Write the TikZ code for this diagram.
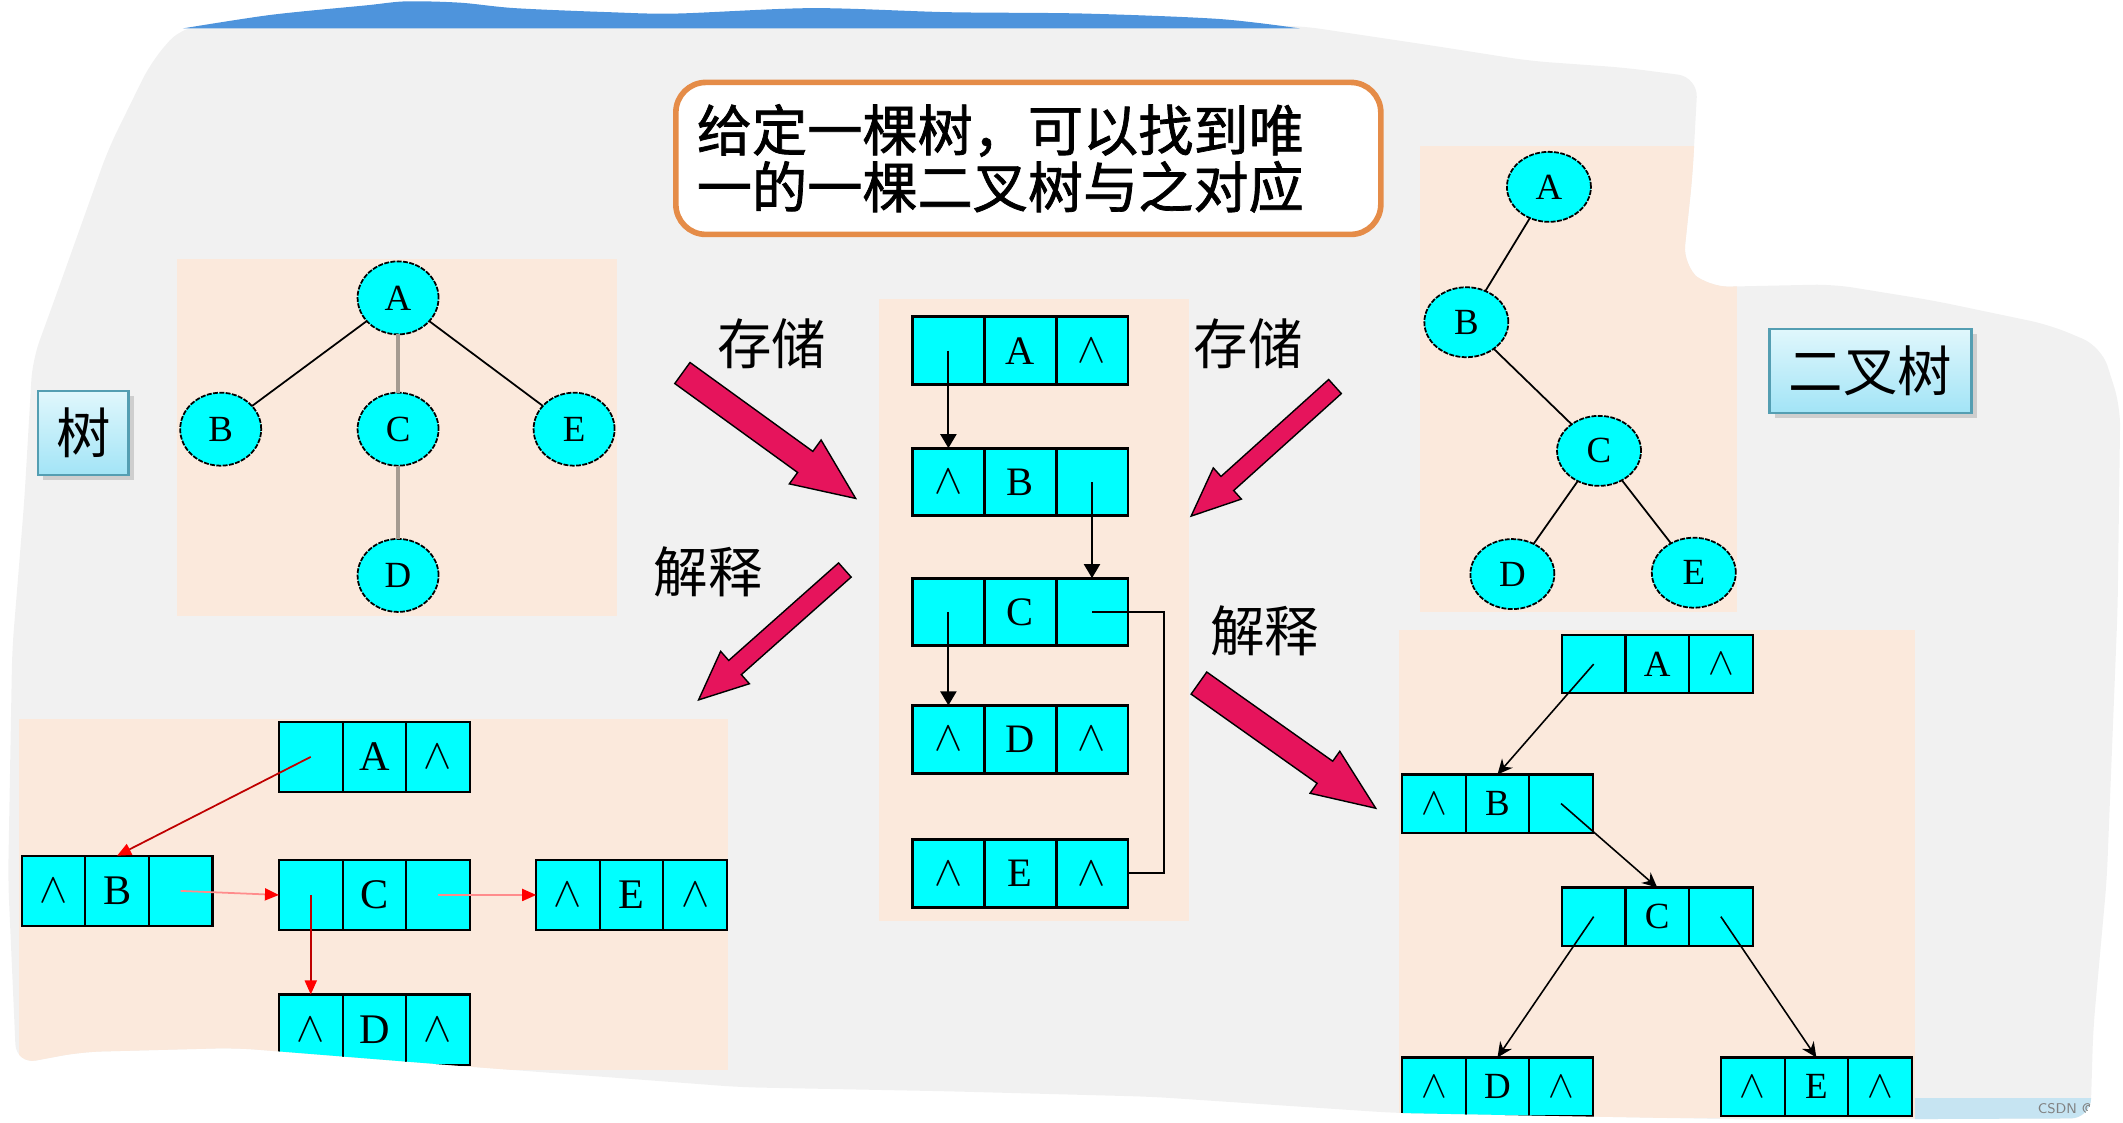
\documentclass[tikz,border=0pt]{standalone}
\usepackage{fontspec}
\setmainfont{Liberation Serif}
\newfontfamily\cjkfont{Noto Sans CJK SC}
\newfontfamily\cjkheavy{Noto Sans CJK SC}[FakeBold=1.3]
\usepackage{tikz}
\usetikzlibrary{arrows.meta,positioning,shapes.geometric,shadows}
\definecolor{bggray}{RGB}{241,241,241}
\definecolor{peach}{RGB}{251,233,220}
\definecolor{cyanfill}{RGB}{0,255,255}
\definecolor{fatpink}{RGB}{230,20,92}
\definecolor{titleorange}{RGB}{229,140,72}
\definecolor{tagtop}{RGB}{224,247,252}
\definecolor{tagbot}{RGB}{162,228,246}
\definecolor{tagline}{RGB}{84,158,178}
\definecolor{stripeblue}{RGB}{78,148,220}
\definecolor{stripelight}{RGB}{198,228,242}
\definecolor{treegray}{RGB}{165,155,145}
\newcommand{\nullmark}{$\wedge$}
% three-cell record: style, name, centre, left, data, right
\newcommand{\mkrecord}[6]{%
  \node[#1] (#2m) at (#3) {#5};
  \node[#1,left=0pt of #2m] (#2l) {#4};
  \node[#1,right=0pt of #2m] (#2r) {#6};}
% fat arrow: tail centre, angle, length, half shaft, half head, head length
\newcommand{\fatarrow}[6]{%
  \draw[fat,shift={(#1)},rotate=#2] (0,-#4) -- (#3-#6,-#4) -- (#3-#6,-#5) -- (#3,0)
    -- (#3-#6,#5) -- (#3-#6,#4) -- (0,#4) -- cycle;}

\begin{document}
\begin{tikzpicture}[x=0.1354mm,y=-0.1354mm,
    every node/.style={inner sep=0pt,outer sep=0pt},
    tnode/.style={ellipse,draw,line width=0.5pt,dash pattern=on 1.4pt off 0.4pt,fill=cyanfill,minimum width=8.1mm,minimum height=7.3mm,font=\fontsize{10.5}{12}\selectfont},
    bnode/.style={tnode,minimum width=8.4mm,minimum height=7.0mm},
    cellC/.style={draw,line width=0.8pt,fill=cyanfill,minimum width=7.18mm,minimum height=6.77mm,font=\fontsize{11.5}{12}\selectfont},
    cellL/.style={draw,line width=0.6pt,fill=cyanfill,minimum width=6.36mm,minimum height=7.04mm,font=\fontsize{12}{13}\selectfont},
    cellR/.style={draw,line width=0.6pt,fill=cyanfill,minimum width=6.36mm,minimum height=5.82mm,font=\fontsize{10.5}{12}\selectfont},
    arr/.style={-{Triangle[length=1.4mm,width=1.6mm]},line width=0.6pt},
    redarr/.style={draw=red!75!black,line width=0.5pt,-{Triangle[length=1.4mm,width=1.2mm,color=red]}},
    darr/.style={-{Stealth[length=1.5mm,width=1.4mm]},line width=0.45pt},
    panel/.style={fill=peach},
    fat/.style={fill=fatpink,draw=black,line width=0.4pt},
    lbl/.style={font=\cjkfont\fontsize{15.5}{17}\selectfont},
    tagbox/.style={draw=tagline,line width=0.7pt,top color=tagtop,bottom color=tagbot,minimum height=8.4mm,drop shadow={shadow xshift=0.5mm,shadow yshift=-0.5mm,opacity=0.3},font=\cjkfont\fontsize{15.5}{17}\selectfont},
    titlebox/.style={draw=titleorange,line width=1.6pt,fill=white,rounded corners=3mm,minimum width=70.5mm,minimum height=15.2mm,text width=66.3mm,inner xsep=2.1mm,align=left,font=\cjkheavy\fontsize{15.7}{16.2}\selectfont}
]
\useasboundingbox (0,0) rectangle (1568,829);

% torn gray sheet, everything clipped to it
\begin{scope}[rounded corners=2mm]
\clip (135,19) -- (960,19) -- (1060,34) -- (1130,45)
  -- (1200,50) -- (1254,57) -- (1250,130) -- (1243,196) -- (1262,212) -- (1354,210)
  -- (1428,222) -- (1514,240) -- (1552,256) -- (1566,300) -- (1564,450) -- (1556,650)
  -- (1546,760) -- (1544,826) -- (1300,827) -- (1030,822) -- (850,810) -- (700,806)
  -- (547,803) -- (349,788) -- (174,774) -- (60,777) -- (12,786) -- (6,650) -- (9,480)
  -- (18,369) -- (24,266) -- (40,222) -- (80,110) -- (112,45) -- cycle;
\begin{scope}[sharp corners]
\fill[bggray] (0,0) rectangle (1568,829);
\fill[stripelight] (1414,811) rectangle (1560,830);
\node[font=\sffamily\fontsize{4}{5}\selectfont,text=gray,anchor=east] (mark) at (1545,819) {CSDN @};

% panels
\fill[panel] (131,191) rectangle (456,455);
\fill[panel] (649,221) rectangle (878,680);
\fill[panel] (1049,108) rectangle (1283,452);
\fill[panel] (14,531) rectangle (538,790);
\fill[panel] (1033,465) rectangle (1414,826);

% tree
\node[tnode] (tA) at (294,220) {A};
\node[tnode] (tB) at (163,317) {B};
\node[tnode] (tC) at (294,317) {C};
\node[tnode] (tE) at (424,317) {E};
\node[tnode] (tD) at (294,425) {D};
\draw[line width=0.5pt] (tA) -- (tB);
\draw[line width=0.5pt] (tA) -- (tE);
\draw[treegray,line width=1.1pt] (tA) -- (tC);
\draw[treegray,line width=1.1pt] (tC) -- (tD);

% binary tree
\node[bnode] (bA) at (1144,138) {A};
\node[bnode] (bB) at (1083,238) {B};
\node[bnode] (bC) at (1181,333) {C};
\node[bnode] (bD) at (1117,424) {D};
\node[bnode] (bE) at (1251,423) {E};
\draw[line width=0.5pt] (bA) -- (bB);
\draw[line width=0.5pt] (bB) -- (bC);
\draw[line width=0.5pt] (bC) -- (bD);
\draw[line width=0.5pt] (bC) -- (bE);

% stored links (middle)
\mkrecord{cellC}{cA}{753.5,259}{}{A}{\nullmark}
\mkrecord{cellC}{cB}{753.5,356}{\nullmark}{B}{}
\mkrecord{cellC}{cC}{753.5,452}{}{C}{}
\mkrecord{cellC}{cD}{753.5,546}{\nullmark}{D}{\nullmark}
\mkrecord{cellC}{cE}{753.5,645}{\nullmark}{E}{\nullmark}
\draw[arr] (cAl.center) -- (cBl.north);
\draw[arr] (cBr.center) -- (cCr.north);
\draw[arr] (cCl.center) -- (cDl.north);
\coordinate (cTurn) at (860,452);
\draw[line width=0.6pt] (cCr.center) -- (cTurn) |- (cEr.east);

% read as tree (bottom left)
\mkrecord{cellL}{lA}{276.5,559}{}{A}{\nullmark}
\mkrecord{cellL}{lB}{86.5,658}{\nullmark}{B}{}
\mkrecord{cellL}{lC}{276.5,661}{}{C}{}
\mkrecord{cellL}{lE}{466.5,661}{\nullmark}{E}{\nullmark}
\mkrecord{cellL}{lD}{276.5,760.5}{\nullmark}{D}{\nullmark}
\draw[redarr] (lAl.center) -- (lBm.north);
\draw[redarr,draw=red!45] (lBr.center) -- (lCl.west);
\draw[redarr,draw=red!45] (lCr.center) -- (lEl.west);
\draw[redarr] (lCl.center) -- (lDl.north);

% read as binary tree (bottom right)
\mkrecord{cellR}{rA}{1224,490.5}{}{A}{\nullmark}
\mkrecord{cellR}{rB}{1106,593.5}{\nullmark}{B}{}
\mkrecord{cellR}{rC}{1224,677}{}{C}{}
\mkrecord{cellR}{rD}{1106,802.5}{\nullmark}{D}{\nullmark}
\mkrecord{cellR}{rE}{1341.5,802.5}{\nullmark}{E}{\nullmark}
\draw[darr] (rAl.center) -- (rBm.north);
\draw[darr] (rBr.center) -- (rCm.north);
\draw[darr] (rCl.center) -- (rDm.north);
\draw[darr] (rCr.center) -- (rEm.north);

% big arrows and their words
\fatarrow{504,275.5}{-35.9}{158}{9.6}{20}{46}
\fatarrow{624,421}{221.6}{144.5}{7}{16}{36}
\fatarrow{986,285.5}{222}{143}{7}{15.5}{36}
\fatarrow{885.5,504.5}{-35.3}{160}{10}{19}{46}
\node[lbl] (storeL) at (570,254) {存储};
\node[lbl] (readL) at (523,422) {解释};
\node[lbl] (storeR) at (922,254) {存储};
\node[lbl] (readR) at (934,466) {解释};

% tags and title
\node[tagbox,minimum width=9.07mm] (tagTree) at (61.5,320) {树};
\node[tagbox,minimum width=20.2mm] (tagBin) at (1381.5,274) {二叉树};
\node[titlebox] (title) at (759.5,117) {给定一棵树，可以找到唯\\一的一棵二叉树与之对应};
\end{scope}
\end{scope}

% blue edge on top
\fill[stripeblue] plot[smooth,tension=0.5] coordinates {(135,21) (200,11) (270,4) (300,1) (340,2) (380,6)
  (450,9) (500,10) (600,6) (700,9) (800,10) (900,14) (960,21)} -- cycle;
\end{tikzpicture}
\end{document}
